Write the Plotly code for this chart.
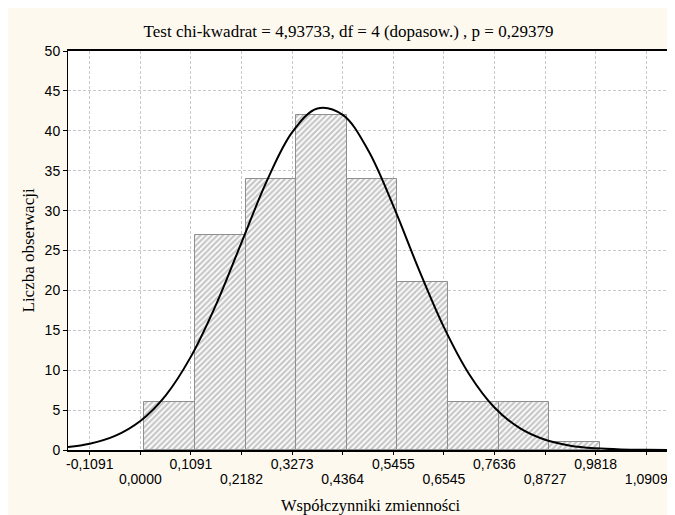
import plotly.graph_objects as go

# ---- data ----
bin_start = 0.0087
bin_width = 0.1091
counts = [6, 27, 34, 42, 34, 21, 6, 6, 1]

tick_vals = [-0.1091, 0.0, 0.1091, 0.2182, 0.3273, 0.4364, 0.5455,
             0.6545, 0.7636, 0.8727, 0.9818, 1.0909]
tick_labels = ["-0,1091", "0,0000", "0,1091", "0,2182", "0,3273", "0,4364",
               "0,5455", "0,6545", "0,7636", "0,8727", "0,9818", "1,0909"]

# fitted normal curve
curve_x = [-0.1559, -0.1091, -0.0545, 0.0, 0.0545, 0.1091, 0.1636, 0.2182,
           0.2727, 0.3273, 0.3818, 0.4364, 0.4909, 0.5455, 0.6, 0.6545,
           0.7091, 0.7636, 0.8182, 0.8727, 0.9273, 0.9818, 1.0364, 1.0909,
           1.1507]
curve_y = [0.36, 0.78, 1.76, 3.63, 6.82, 11.7, 18.25, 26.0,
           33.7, 39.8, 42.8, 42.0, 37.6, 30.6, 22.7, 15.4,
           9.5, 5.33, 2.73, 1.28, 0.54, 0.21, 0.07, 0.02,
           0.006]

title_text = "Test chi-kwadrat = 4,93733, df = 4 (dopasow.) , p = 0,29379"
x_title = "Współczynniki zmienności"
y_title = "Liczba obserwacji"

# ---- figure ----
centers = [bin_start + bin_width * (i + 0.5) for i in range(len(counts))]
row1_text = [lab if i % 2 == 0 else "" for i, lab in enumerate(tick_labels)]
row2_vals = [v for i, v in enumerate(tick_vals) if i % 2 == 1]
row2_text = [lab for i, lab in enumerate(tick_labels) if i % 2 == 1]

cream = "#fdf9ef"
serif = "Liberation Serif, Times New Roman, serif"
xrange = [-0.1559, 1.1507]

fig = go.Figure()
fig.add_trace(go.Bar(
    x=centers, y=counts, width=bin_width,
    marker=dict(color="white",
                line=dict(color="#8f8f8f", width=1),
                pattern=dict(shape="/", size=4, solidity=0.55,
                             fgcolor="#8e8e8e", bgcolor="white")),
    showlegend=False, hoverinfo="skip",
))
fig.add_trace(go.Scatter(
    x=curve_x, y=curve_y, mode="lines",
    line=dict(color="black", width=2, shape="spline", smoothing=1.0),
    showlegend=False, hoverinfo="skip",
))

W, H = 667, 507
fig.update_layout(
    width=W, height=H,
    margin=dict(l=60, r=1, t=43, b=65, pad=0),
    paper_bgcolor=cream, plot_bgcolor="white",
    bargap=0,
    font=dict(family="Liberation Sans, Arial, sans-serif", size=14, color="black"),
    title=dict(text=title_text, x=(348.5 - 8) / W, xanchor="center",
               y=1 - 23 / H, yanchor="middle", yref="container",
               font=dict(family=serif, size=17)),
    annotations=[
        dict(text=x_title, xref="paper", yref="paper", x=0.5, y=0,
             yshift=-55, xanchor="center", yanchor="middle", showarrow=False,
             font=dict(family=serif, size=16.5)),
        dict(text=y_title, xref="paper", yref="paper", x=0, y=0.5,
             xshift=-40, xanchor="center", yanchor="middle", showarrow=False,
             textangle=-90, font=dict(family=serif, size=17)),
    ],
    xaxis=dict(
        range=xrange, tickmode="array", tickvals=tick_vals, ticktext=row1_text,
        showgrid=True, gridcolor="#c8c8c8", griddash="3px,2px", gridwidth=1,
        showline=True, linecolor="black", linewidth=2, mirror=True,
        ticks="outside", ticklen=3, tickcolor="black", zeroline=False,
        ticklabelstandoff=-3, fixedrange=True,
    ),
    xaxis2=dict(
        range=xrange, overlaying="x", anchor="y", side="bottom",
        tickmode="array", tickvals=row2_vals, ticktext=row2_text,
        showgrid=False, showline=False, ticks="", zeroline=False,
        ticklabelstandoff=19, fixedrange=True,
    ),
    yaxis=dict(
        range=[0, 50], dtick=5, tick0=0,
        showgrid=True, gridcolor="#c8c8c8", griddash="3px,2px", gridwidth=1,
        showline=True, linecolor="black", linewidth=1,
        ticks="outside", ticklen=4, tickcolor="black", zeroline=False,
        fixedrange=True,
    ),
)
# invisible trace to activate the second x axis (for the lower row of tick labels)
fig.add_trace(go.Scatter(x=[xrange[0]], y=[0], xaxis="x2", mode="markers",
                         marker=dict(opacity=0), showlegend=False, hoverinfo="skip"))

fig.write_html("out.html")
